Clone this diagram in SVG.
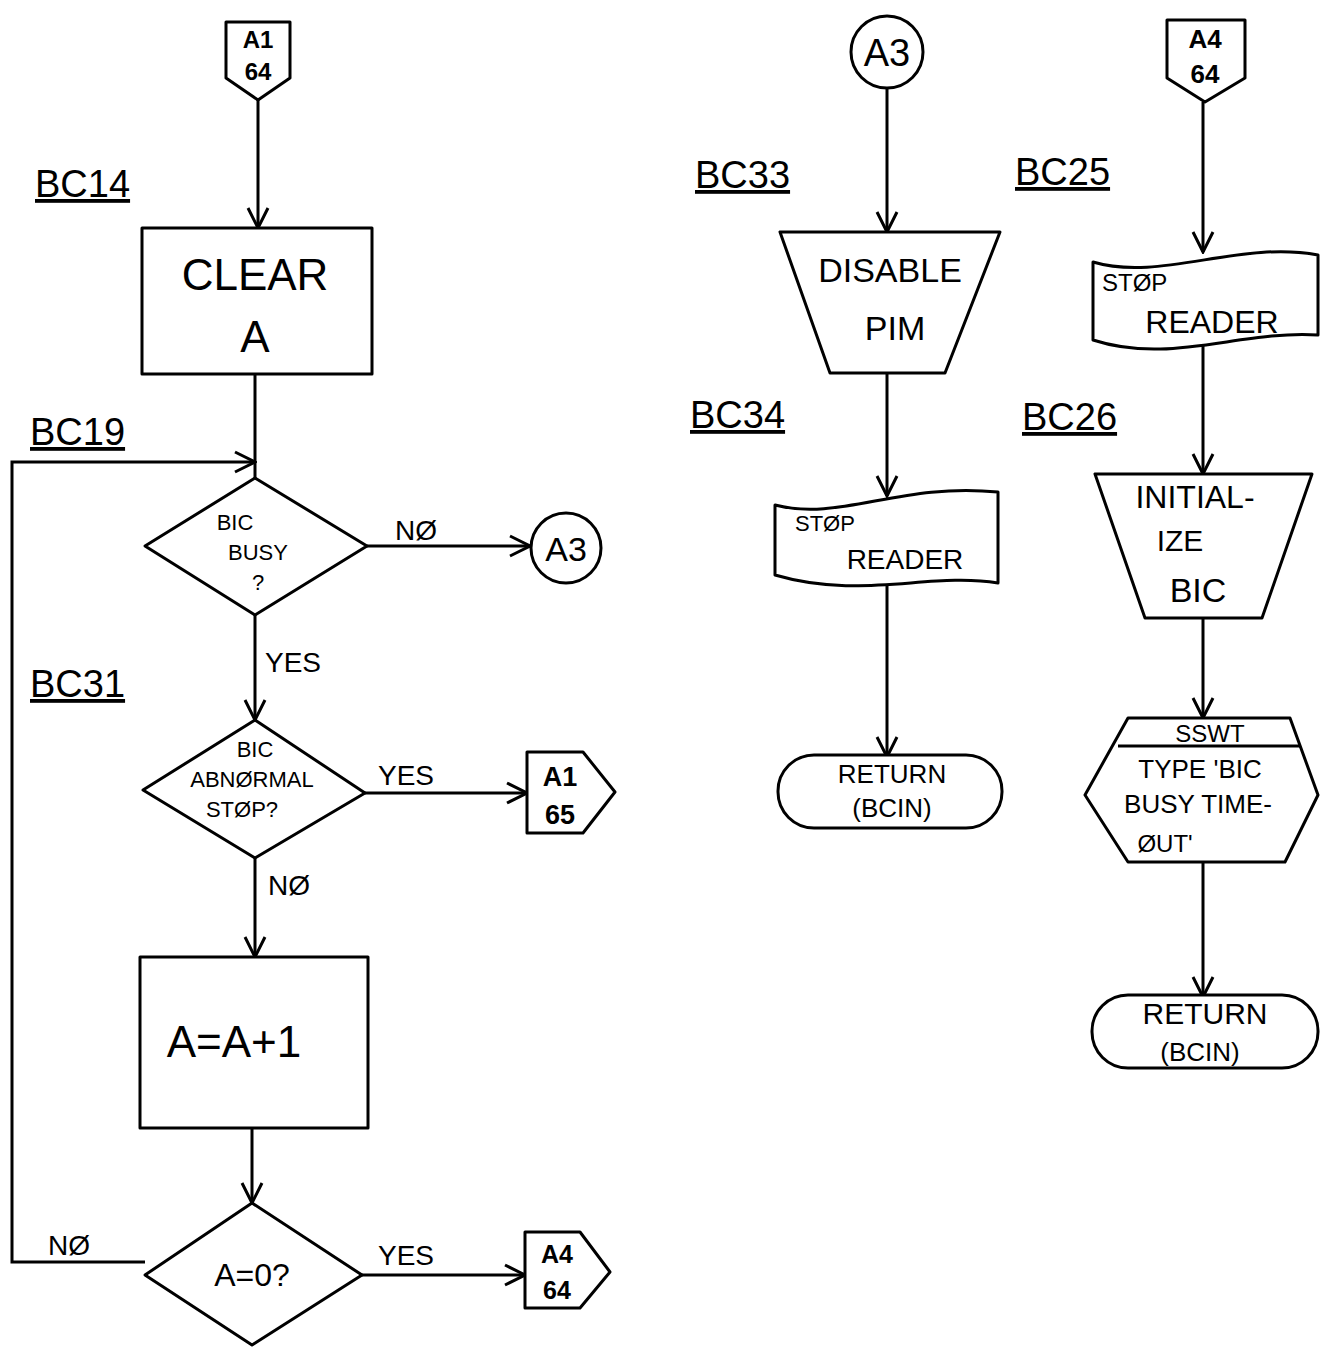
<svg xmlns="http://www.w3.org/2000/svg" width="1330" height="1353" viewBox="0 0 1330 1353">
<defs>
<style>
.s{fill:none;stroke:#000;stroke-width:3;stroke-linejoin:round}
.sh{fill:#fff;stroke:#000;stroke-width:3;stroke-linejoin:round}
.c{stroke:#000;stroke-width:3;fill:none}
text{font-family:"Liberation Sans",Arial,sans-serif;fill:#000}
.t{text-anchor:middle}
.ts{text-anchor:start}
.big{font-size:44px;text-anchor:middle}
.lab{font-size:38px;text-decoration:underline}
.edge{font-size:28px}
.cn{font-weight:bold;text-anchor:middle}
</style>
<marker id="ah" viewBox="0 0 24 24" refX="22" refY="12" markerWidth="24" markerHeight="24" markerUnits="userSpaceOnUse" orient="auto">
<path d="M2,2 L22,12 L2,22" fill="none" stroke="#000" stroke-width="3"/>
</marker>
</defs>
<rect width="1330" height="1353" fill="#fff"/>

<g id="labels">
<text class="lab" x="35" y="197">BC14</text>
<text class="lab" x="30" y="445">BC19</text>
<text class="lab" x="30" y="697">BC31</text>
<text class="lab" x="695" y="188">BC33</text>
<text class="lab" x="690" y="428">BC34</text>
<text class="lab" x="1015" y="185">BC25</text>
<text class="lab" x="1022" y="430">BC26</text>
</g>

<g id="connectors">
<path class="c" d="M258,100 L258,228" marker-end="url(#ah)"/>
<path class="c" d="M255,374 L255,478"/>
<path class="c" d="M145,1262 L12,1262 L12,462 L255,462" marker-end="url(#ah)"/>
<path class="c" d="M367,546 L530,546" marker-end="url(#ah)"/>
<path class="c" d="M255,615 L255,720" marker-end="url(#ah)"/>
<path class="c" d="M365,793 L527,793" marker-end="url(#ah)"/>
<path class="c" d="M255,858 L255,957" marker-end="url(#ah)"/>
<path class="c" d="M252,1128 L252,1203" marker-end="url(#ah)"/>
<path class="c" d="M362,1275 L525,1275" marker-end="url(#ah)"/>
<path class="c" d="M887,88 L887,232" marker-end="url(#ah)"/>
<path class="c" d="M887,373 L887,496" marker-end="url(#ah)"/>
<path class="c" d="M887,582 L887,757" marker-end="url(#ah)"/>
<path class="c" d="M1203,102 L1203,252" marker-end="url(#ah)"/>
<path class="c" d="M1203,344 L1203,474" marker-end="url(#ah)"/>
<path class="c" d="M1203,618 L1203,718" marker-end="url(#ah)"/>
<path class="c" d="M1203,862 L1203,997" marker-end="url(#ah)"/>
<text class="edge" x="395" y="540">NØ</text>
<text class="edge" x="265" y="672">YES</text>
<text class="edge" x="378" y="785">YES</text>
<text class="edge" x="268" y="895">NØ</text>
<text class="edge" x="48" y="1255">NØ</text>
<text class="edge" x="378" y="1265">YES</text>
</g>

<g id="offpage-a1-64">
<path class="sh" d="M226,22 L290,22 L290,78 L258,100 L226,78 Z"/>
<text class="cn" x="258" y="48" font-size="24">A1</text>
<text class="cn" x="258" y="80" font-size="24">64</text>
</g>

<g id="clear-a">
<rect class="sh" x="142" y="228" width="230" height="146"/>
<text class="big" x="255" y="290">CLEAR</text>
<text class="big" x="255" y="352">A</text>
</g>

<g id="bic-busy">
<path class="sh" d="M255,478 L367,546 L255,615 L145,546 Z"/>
<text class="t" x="235" y="530" font-size="22">BIC</text>
<text class="t" x="258" y="560" font-size="22">BUSY</text>
<text class="t" x="258" y="590" font-size="22">?</text>
</g>

<g id="a3-left">
<circle class="sh" cx="566" cy="548" r="35"/>
<text class="t" x="566" y="561" font-size="34">A3</text>
</g>

<g id="bic-abnormal">
<path class="sh" d="M255,720 L365,793 L255,858 L143,790 Z"/>
<text class="t" x="255" y="757" font-size="22">BIC</text>
<text class="t" x="252" y="787" font-size="22">ABNØRMAL</text>
<text class="t" x="242" y="817" font-size="22">STØP?</text>
</g>

<g id="offpage-a1-65">
<path class="sh" d="M527,752 L583,752 L615,792 L583,833 L527,833 Z"/>
<text class="cn" x="560" y="786" font-size="27">A1</text>
<text class="cn" x="560" y="824" font-size="27">65</text>
</g>

<g id="a-inc">
<rect class="sh" x="140" y="957" width="228" height="171"/>
<text class="big" x="234" y="1057">A=A+1</text>
</g>

<g id="a-zero">
<path class="sh" d="M252,1203 L362,1275 L252,1345 L145,1275 Z"/>
<text class="t" x="252" y="1286" font-size="32">A=0?</text>
</g>

<g id="offpage-a4-64-bottom">
<path class="sh" d="M525,1232 L580,1232 L610,1272 L580,1308 L525,1308 Z"/>
<text class="cn" x="557" y="1263" font-size="25">A4</text>
<text class="cn" x="557" y="1299" font-size="25">64</text>
</g>

<g id="a3-top">
<circle class="sh" cx="887" cy="52" r="36"/>
<text class="t" x="887" y="66" font-size="38">A3</text>
</g>

<g id="disable-pim">
<path class="sh" d="M780,232 L1000,232 L945,373 L830,373 Z"/>
<text class="t" x="890" y="282" font-size="34">DISABLE</text>
<text class="t" x="895" y="340" font-size="34">PIM</text>
</g>

<g id="stop-reader-mid">
<path class="sh" d="M775,505 C840,522 900,482 998,492 L998,583 C930,572 860,600 775,575 Z"/>
<text class="ts" x="795" y="531" font-size="22">STØP</text>
<text class="t" x="905" y="569" font-size="28">READER</text>
</g>

<g id="return-mid">
<rect class="sh" x="778" y="755" width="224" height="73" rx="36" ry="36"/>
<text class="t" x="892" y="783" font-size="26">RETURN</text>
<text class="t" x="892" y="817" font-size="26">(BCIN)</text>
</g>

<g id="offpage-a4-64-top">
<path class="sh" d="M1167,20 L1245,20 L1245,78 L1205,102 L1167,78 Z"/>
<text class="cn" x="1205" y="48" font-size="26">A4</text>
<text class="cn" x="1205" y="83" font-size="26">64</text>
</g>

<g id="stop-reader-right">
<path class="sh" d="M1093,262 C1160,282 1240,240 1318,255 L1318,335 C1240,330 1170,365 1093,340 Z"/>
<text class="ts" x="1102" y="291" font-size="24">STØP</text>
<text class="t" x="1212" y="333" font-size="32">READER</text>
</g>

<g id="initialize-bic">
<path class="sh" d="M1095,474 L1312,474 L1262,618 L1145,618 Z"/>
<text class="t" x="1195" y="508" font-size="32">INITIAL-</text>
<text class="t" x="1180" y="551" font-size="30">IZE</text>
<text class="t" x="1198" y="602" font-size="34">BIC</text>
</g>

<g id="sswt">
<path class="sh" d="M1128,718 L1290,718 L1318,795 L1285,862 L1128,862 L1085,795 Z"/>
<path class="s" d="M1118,746 L1300,746"/>
<text class="t" x="1210" y="742" font-size="24">SSWT</text>
<text class="t" x="1200" y="778" font-size="26">TYPE 'BIC</text>
<text class="t" x="1198" y="813" font-size="26">BUSY TIME-</text>
<text class="t" x="1165" y="852" font-size="24">ØUT'</text>
</g>

<g id="return-right">
<rect class="sh" x="1092" y="995" width="226" height="73" rx="36" ry="36"/>
<text class="t" x="1205" y="1024" font-size="30">RETURN</text>
<text class="t" x="1200" y="1061" font-size="26">(BCIN)</text>
</g>
</svg>
